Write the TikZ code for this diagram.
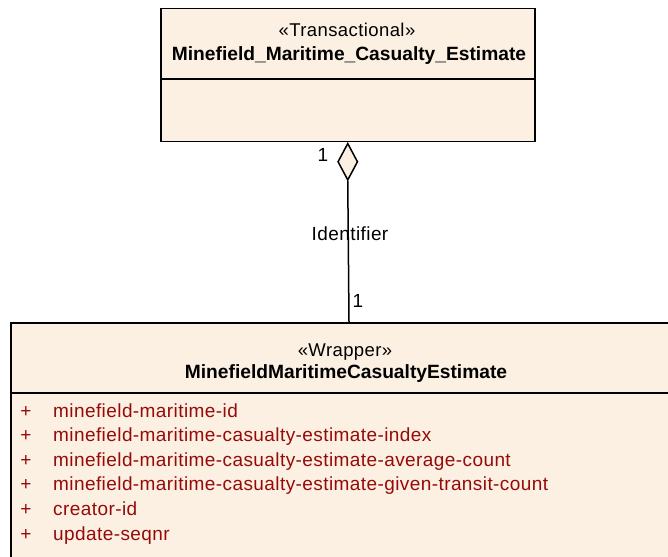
\documentclass[tikz,border=0pt]{standalone}
\usepackage{fontspec}
\setmainfont{Liberation Sans}
\newfontfamily\spacedfont[LetterSpace=2.2]{Liberation Sans}
\usetikzlibrary{shapes.geometric}
\definecolor{umlfill}{RGB}{251,240,226}
\definecolor{attrred}{RGB}{150,10,10}
\begin{document}
\begin{tikzpicture}[x=1pt,y=-1pt,
  umlbox/.style={draw=black, line width=1.5pt, fill=umlfill, rectangle, inner sep=0pt, anchor=north west},
  divider/.style={line width=1.5pt},
  stereo/.style={font=\spacedfont\fontsize{18.5}{20}\selectfont, anchor=base, inner sep=0pt},
  cname/.style={font=\bfseries\fontsize{19.2}{22}\selectfont, anchor=base, inner sep=0pt},
  attr/.style={font=\spacedfont\fontsize{19}{22}\selectfont, text=attrred, anchor=base west, inner sep=0pt},
  plus/.style={font=\fontsize{19}{22}\selectfont, text=attrred, anchor=base, inner sep=0pt},
  lbl/.style={font=\spacedfont\fontsize{19}{20}\selectfont, anchor=base, inner sep=0pt},
  aggdiamond/.style={diamond, draw=black, line width=1.5pt, fill=umlfill, minimum width=20pt, minimum height=37pt, inner sep=0pt, anchor=north},
  conn/.style={draw=black, line width=1.5pt},
]
\useasboundingbox (0,0) rectangle (668,556);
\fill[white] (0,0) rectangle (668,556);

% top class
\node[umlbox, minimum width=374pt, minimum height=133pt] (top) at (160,8) {};
\draw[divider] (top.west |- 0,79) -- (top.east |- 0,79);
\node[stereo] (topst) at (347,37) {«Transactional»};
\node[cname] (topname) at (349,61) {Minefield\_Maritime\_Casualty\_Estimate};

% bottom class
\node[umlbox, minimum width=690pt, minimum height=270pt] (bot) at (10,322) {};
\draw[divider] (bot.west |- 0,393) -- (bot.east |- 0,393);
\node[stereo] (botst) at (345,356) {«Wrapper»};
\node[cname] (botname) at (346,378) {MinefieldMaritimeCasualtyEstimate};

\node[plus] (p1) at (26,417) {+};
\node[plus] (p2) at (26,441.6) {+};
\node[plus] (p3) at (26,466.2) {+};
\node[plus] (p4) at (26,490.8) {+};
\node[plus] (p5) at (26,515.4) {+};
\node[plus] (p6) at (26,540) {+};
\node[attr] (a1) at (53,417) {minefield-maritime-id};
\node[attr] (a2) at (53,441.6) {minefield-maritime-casualty-estimate-index};
\node[attr] (a3) at (53,466.2) {minefield-maritime-casualty-estimate-average-count};
\node[attr] (a4) at (53,490.8) {minefield-maritime-casualty-estimate-given-transit-count};
\node[attr] (a5) at (53,515.4) {creator-id};
\node[attr] (a6) at (53,540) {update-seqnr};

% association
\node[aggdiamond] (dia) at (top.south) {};
\coordinate (wend) at (349,322);
\draw[conn] (dia.south) -- (wend);
\node[lbl] (idlbl) at (350,240) {Identifier};
\node[lbl] (m1) at (323,161) {1};
\node[lbl] (m2) at (358,307) {1};
\end{tikzpicture}
\end{document}
